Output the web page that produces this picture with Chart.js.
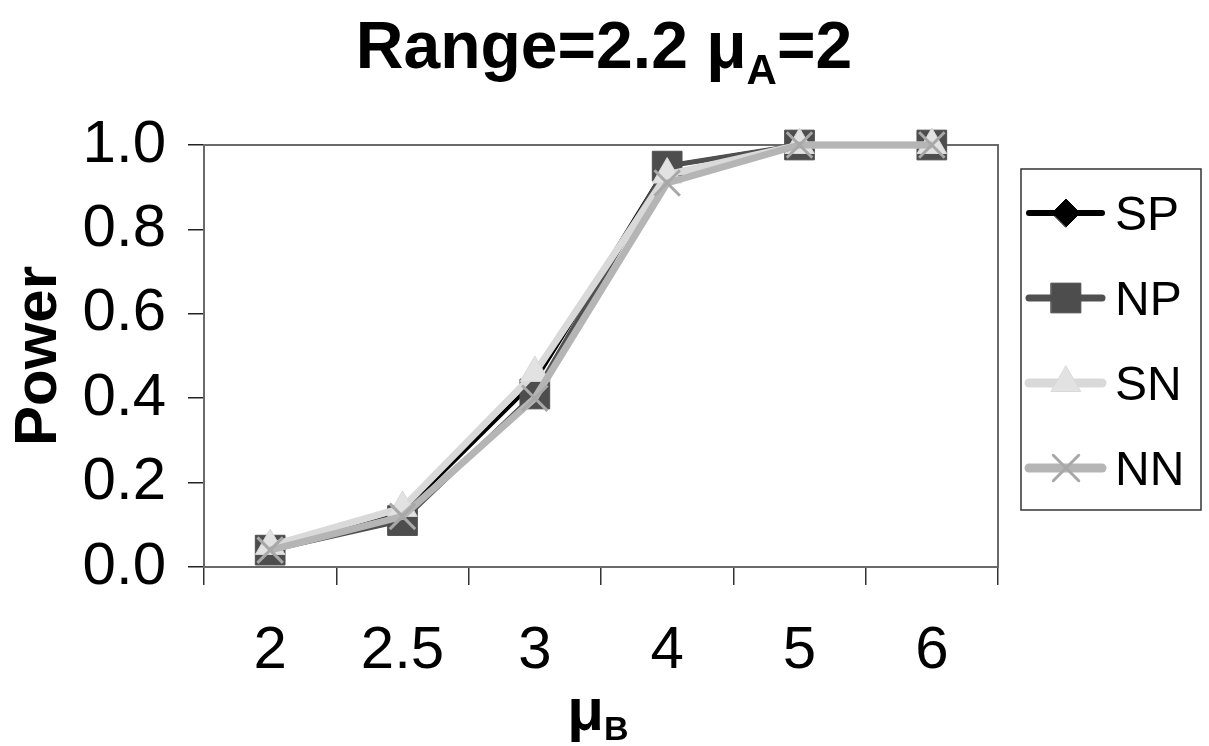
<!DOCTYPE html>
<html>
<head>
<meta charset="utf-8">
<script src="https://cdn.jsdelivr.net/npm/chart.js@4.4.0/dist/chart.umd.min.js"></script>
<style>
  html, body { margin: 0; padding: 0; background: #fff; }
  #wrap { width: 1209px; height: 746px; position: relative; }
</style>
</head>
<body>
<div id="wrap"><canvas id="chart"></canvas></div>
<script>
// mu_B categories and power per method
const muB = ['2', '2.5', '3', '4', '5', '6'];
const spPower = [0.04, 0.13, 0.44, 0.95, 1.0, 1.0];
const npPower = [0.04, 0.11, 0.41, 0.95, 1.0, 1.0];
const snPower = [0.05, 0.14, 0.46, 0.93, 1.0, 1.0];
const nnPower = [0.04, 0.12, 0.40, 0.91, 1.0, 1.0];
const yTicks = [0, 0.2, 0.4, 0.6, 0.8, 1.0];

const FONT = "'Liberation Sans', Arial, sans-serif";

const series = [
  { label: 'SP', data: spPower, line: '#000000', width: 4, fill: '#000000', style: 'rectRot', r: 14, pbw: 1, order: 3 },
  { label: 'NP', data: npPower, line: '#505050', width: 5, fill: '#4d4d4d', style: 'rect', r: 21, pbw: 1, order: 2 },
  { label: 'SN', data: snPower, line: '#d9d9d9', width: 7, fill: '#e2e2e2', style: 'triangle', r: 17, pbw: 1, order: 1 },
  { label: 'NN', data: nnPower, line: '#b5b5b5', width: 7, fill: '#a8a8a8', style: 'crossRot', r: 18, pbw: 3, order: 0 },
];

// text with a subscript part, centred on cx
function drawSub(ctx, before, sub, after, cx, base, size, subSize, drop) {
  ctx.font = 'bold ' + size + 'px ' + FONT;
  const w1 = ctx.measureText(before).width;
  const w3 = ctx.measureText(after).width;
  ctx.font = 'bold ' + subSize + 'px ' + FONT;
  const w2 = ctx.measureText(sub).width;
  let x = cx - (w1 + w2 + w3) / 2;
  ctx.textAlign = 'left';
  ctx.textBaseline = 'alphabetic';
  ctx.font = 'bold ' + size + 'px ' + FONT;
  ctx.fillText(before, x, base);
  x += w1;
  ctx.font = 'bold ' + subSize + 'px ' + FONT;
  ctx.fillText(sub, x, base + drop);
  x += w2;
  ctx.font = 'bold ' + size + 'px ' + FONT;
  if (after) ctx.fillText(after, x, base);
}

const extras = {
  id: 'extras',
  beforeDatasetsDraw(chart) {
    const { ctx, chartArea: a } = chart;
    ctx.save();
    ctx.strokeStyle = '#6a6a6a';
    ctx.lineWidth = 2;
    ctx.strokeRect(a.left, a.top, a.right - a.left, a.bottom - a.top);
    ctx.restore();
  },
  afterDraw(chart) {
    const ctx = chart.ctx;
    ctx.save();
    ctx.fillStyle = '#000';

    drawSub(ctx, 'Range=2.2 \u03bc', 'A', '=2', 604, 68, 66, 42, 16);
    drawSub(ctx, '\u03bc', 'B', '', 598, 730, 60, 34, 10);

    // y title
    ctx.save();
    ctx.translate(56, 356);
    ctx.rotate(-Math.PI / 2);
    ctx.font = 'bold 60px ' + FONT;
    ctx.textAlign = 'center';
    ctx.textBaseline = 'alphabetic';
    ctx.fillText('Power', 0, 0);
    ctx.restore();

    // legend box
    ctx.strokeStyle = '#333';
    ctx.lineWidth = 1.5;
    ctx.strokeRect(1021, 169, 180, 341);
    const rows = [213, 298, 383, 468];
    series.forEach((s, i) => {
      const y = rows[i];
      ctx.save();
      ctx.lineCap = 'round';
      ctx.strokeStyle = s.line;
      ctx.lineWidth = s.width + 2;
      ctx.beginPath();
      ctx.moveTo(1029, y);
      ctx.lineTo(1102, y);
      ctx.stroke();
      ctx.fillStyle = s.fill;
      ctx.strokeStyle = s.style === 'crossRot' ? s.fill : s.line;
      ctx.lineWidth = s.pbw;
      Chart.helpers.drawPoint(ctx, { pointStyle: s.style, radius: s.r, rotation: 0, borderWidth: s.pbw }, 1066, y);
      ctx.restore();
      ctx.fillStyle = '#000';
      ctx.font = '48px ' + FONT;
      ctx.textAlign = 'left';
      ctx.textBaseline = 'alphabetic';
      ctx.fillText(s.label, 1115, y + 17);
    });
    ctx.restore();
  }
};

new Chart(document.getElementById('chart'), {
  type: 'line',
  data: {
    labels: muB,
    datasets: series.map(s => ({
      label: s.label,
      data: s.data,
      borderColor: s.line,
      borderWidth: s.width,
      backgroundColor: s.fill,
      pointBackgroundColor: s.fill,
      pointBorderColor: s.style === 'crossRot' ? s.fill : s.line,
      pointBorderWidth: s.pbw,
      pointStyle: s.style,
      pointRadius: s.r,
      pointHoverRadius: s.r,
      tension: 0,
      clip: false,
      order: s.order,
    })),
  },
  options: {
    responsive: true,
    maintainAspectRatio: false,
    animation: false,
    layout: { padding: { left: 0, top: 145, right: 211, bottom: 0 } },
    plugins: {
      legend: { display: false },
      tooltip: { enabled: false },
    },
    scales: {
      x: {
        offset: true,
        grid: { offset: true, drawOnChartArea: false, color: '#333', tickLength: 18, lineWidth: 1.5 },
        border: { color: '#222', width: 2 },
        ticks: { color: '#000', font: { family: FONT, size: 60 }, padding: 30, maxRotation: 0 },
        afterFit(scale) { scale.height = 179; },
      },
      y: {
        min: 0,
        max: 1,
        afterBuildTicks(scale) { scale.ticks = yTicks.map(v => ({ value: v })); },
        grid: { drawOnChartArea: false, color: '#222', tickLength: 16, lineWidth: 1.5 },
        border: { color: '#222', width: 2 },
        ticks: { color: '#000', font: { family: FONT, size: 60 }, padding: 22, callback: v => v.toFixed(1) },
        afterFit(scale) { scale.width = 204; },
      },
    },
  },
  plugins: [extras],
});
</script>
</body>
</html>
